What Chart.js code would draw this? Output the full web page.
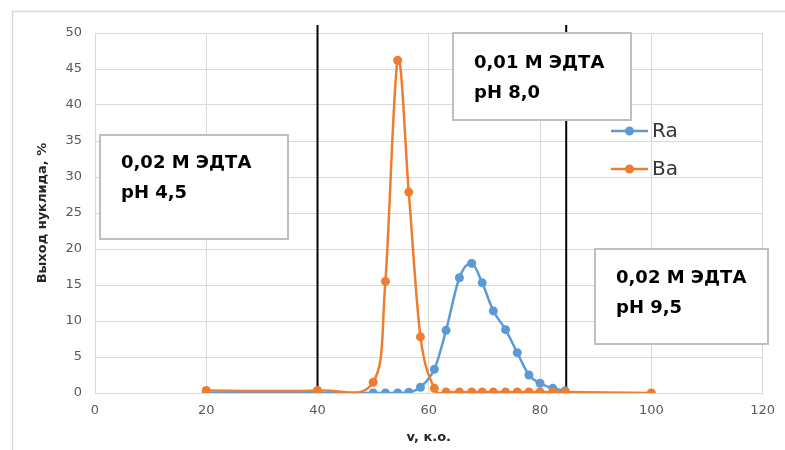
<!DOCTYPE html>
<html><head><meta charset="utf-8">
<script src="https://cdn.jsdelivr.net/npm/chart.js@4.4.1/dist/chart.umd.min.js"></script>
<style>html,body{margin:0;padding:0;background:#fff}#wrap{width:785px;height:450px;position:relative}</style>
</head><body><div id="wrap"><canvas id="c" width="785" height="450"></canvas></div>
<script>
// ---- data ----
const seriesNames = ['Ra', 'Ba'];
const raV = [20, 40, 50, 52.2, 54.4, 56.4, 58.5, 61.0, 63.1, 65.5, 67.7, 69.6, 71.6, 73.8, 75.9, 78.0, 80.0, 82.3, 84.5];
const raY = [0, 0, 0, 0, 0, 0.1, 0.8, 3.3, 8.7, 16.0, 18.0, 15.3, 11.4, 8.8, 5.6, 2.5, 1.35, 0.65, 0.3];
const baV = [20, 40, 50, 52.2, 54.4, 56.4, 58.5, 61.0, 63.1, 65.5, 67.7, 69.6, 71.6, 73.8, 75.9, 78.0, 80.0, 82.3, 84.5, 100];
const baY = [0.35, 0.35, 1.5, 15.5, 46.2, 27.9, 7.8, 0.65, 0.15, 0.15, 0.15, 0.15, 0.15, 0.15, 0.15, 0.15, 0.15, 0.15, 0.15, 0];
const boundaryV = [40, 84.7];
const boundaryY = [0, 51.1];
const xRange = [0, 120, 20];
const yRange = [0, 50, 5];
const xTitle = 'v, к.о.';
const yTitle = 'Выход нуклида, %';
const boxTexts = [['0,02 М ЭДТА', 'pH 4,5'], ['0,01 М ЭДТА', 'pH 8,0'], ['0,02 М ЭДТА', 'pH 9,5']];

const colors = ['#5B9BD5', '#ED7D31'];
const toPts = (xs, ys) => xs.map((x, i) => ({x: x, y: ys[i]}));

const datasets = [
  {label: seriesNames[0], data: toPts(raV, raY), borderColor: colors[0], backgroundColor: colors[0],
   borderWidth: 2.5, pointRadius: 4.5, pointBorderWidth: 0, tension: 0.4, order: 1, excelSmooth: true},
  {label: seriesNames[1], data: toPts(baV, baY), borderColor: colors[1], backgroundColor: colors[1],
   borderWidth: 2.5, pointRadius: 4.5, pointBorderWidth: 0, tension: 0.4, order: 0, excelSmooth: true}
];
boundaryV.forEach(v => datasets.push({
  label: '', data: boundaryY.map(y => ({x: v, y: y})), borderColor: '#000', borderWidth: 2,
  pointRadius: 0, tension: 0, clip: false, order: 5, isBoundary: true
}));

const boxes = [
  {x: 100, y: 135, w: 188, h: 104, tx: 121, ty: 168},
  {x: 453, y: 33, w: 178, h: 87, tx: 474, ty: 68},
  {x: 595, y: 249, w: 173, h: 95, tx: 616, ty: 283}
];

// Excel-like (uniform Catmull-Rom) smoothing of the line path between the library-placed points
const smoothing = {
  id: 'smoothing',
  beforeDatasetDraw(chart, args) {
    const ds = chart.data.datasets[args.index];
    if (!ds.excelSmooth) return;
    const meta = args.meta;
    const pts = meta.data;
    for (let i = 0; i < pts.length; i++) {
      const p = pts[i], prev = pts[i - 1] || p, next = pts[i + 1] || p;
      const dx = (next.x - prev.x) / 6, dy = (next.y - prev.y) / 6;
      p.cp1x = p.x - dx; p.cp1y = p.y - dy;
      p.cp2x = p.x + dx; p.cp2y = p.y + dy;
    }
    meta.dataset._pointsUpdated = true;
    meta.dataset._path = undefined;
  }
};

const decor = {
  id: 'decor',
  beforeDraw(chart) {
    const ctx = chart.ctx;
    ctx.save();
    ctx.fillStyle = '#fff';
    ctx.fillRect(0, 0, chart.width, chart.height);
    ctx.strokeStyle = '#D9D9D9';
    ctx.lineWidth = 1.5;
    ctx.strokeRect(12.5, 11.5, 900, 600);
    ctx.restore();
  },
  afterDatasetsDraw(chart) {
    const ctx = chart.ctx;
    ctx.save();
    boxes.forEach((b, i) => {
      ctx.fillStyle = '#fff';
      ctx.fillRect(b.x, b.y, b.w, b.h);
      ctx.strokeStyle = '#BFBFBF';
      ctx.lineWidth = 2;
      ctx.strokeRect(b.x, b.y, b.w, b.h);
      ctx.fillStyle = '#000';
      ctx.font = 'bold 18px "DejaVu Sans"';
      ctx.textBaseline = 'alphabetic';
      ctx.textAlign = 'left';
      boxTexts[i].forEach((t, j) => ctx.fillText(t, b.tx, b.ty + j * 29.5));
    });
    const lx = 611, lw = 37, ly = [131, 169];
    chart.data.datasets.filter(d => !d.isBoundary).forEach((d, i) => {
      ctx.strokeStyle = d.borderColor;
      ctx.lineWidth = 2.5;
      ctx.beginPath();
      ctx.moveTo(lx, ly[i]); ctx.lineTo(lx + lw, ly[i]); ctx.stroke();
      ctx.fillStyle = d.backgroundColor;
      ctx.beginPath(); ctx.arc(lx + lw / 2, ly[i], 4.5, 0, Math.PI * 2); ctx.fill();
      ctx.fillStyle = '#333';
      ctx.font = '20px "DejaVu Sans"';
      ctx.textBaseline = 'middle';
      ctx.fillText(d.label, lx + lw + 4, ly[i] + 1);
    });
    ctx.restore();
  }
};

new Chart(document.getElementById('c'), {
  type: 'line',
  data: {datasets: datasets},
  options: {
    responsive: false, animation: false, devicePixelRatio: 1,
    layout: {padding: {left: 0, top: 33, right: 18, bottom: 0}},
    plugins: {legend: {display: false}, tooltip: {enabled: false}},
    scales: {
      x: {
        type: 'linear', min: xRange[0], max: xRange[1],
        ticks: {stepSize: xRange[2], color: '#595959', font: {family: 'DejaVu Sans', size: 13}, padding: 10},
        grid: {color: '#D9D9D9', drawTicks: false},
        border: {color: '#D9D9D9'},
        title: {display: true, text: xTitle, color: '#262626', font: {family: 'DejaVu Sans', size: 13, weight: 'bold'}, padding: {top: 0, bottom: 5}},
        afterFit(s) { s.height = 57; }
      },
      y: {
        type: 'linear', min: yRange[0], max: yRange[1],
        ticks: {stepSize: yRange[2], color: '#595959', font: {family: 'DejaVu Sans', size: 13}, padding: 13},
        grid: {color: '#D9D9D9', drawTicks: false},
        border: {color: '#D9D9D9'},
        title: {display: true, text: yTitle, color: '#262626', font: {family: 'DejaVu Sans', size: 13, weight: 'bold'}, padding: {top: 35, bottom: 0}},
        afterFit(s) { s.width = 95; }
      }
    }
  },
  plugins: [smoothing, decor]
});
</script></body></html>
